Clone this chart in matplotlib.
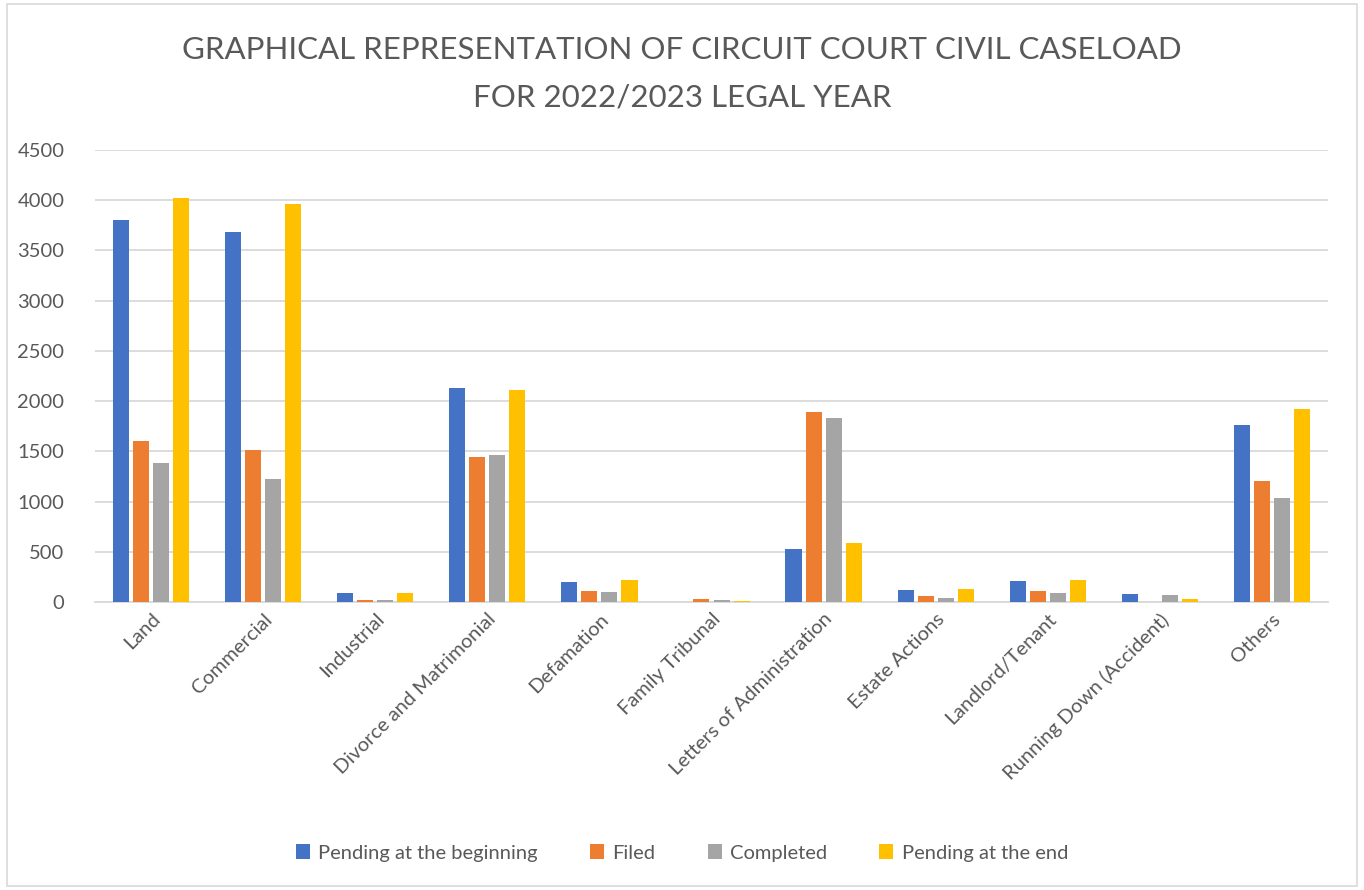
import matplotlib.pyplot as plt
import numpy as np
from matplotlib.patches import Rectangle

categories = ["Land", "Commercial", "Industrial", "Divorce and Matrimonial", "Defamation",
              "Family Tribunal", "Letters of Administration", "Estate Actions",
              "Landlord/Tenant", "Running Down (Accident)", "Others"]
series_names = ["Pending at the beginning", "Filed", "Completed", "Pending at the end"]
pending_begin = [3800, 3680, 94, 2128, 196, 0, 525, 116, 206, 84, 1760]
filed = [1600, 1511, 17, 1441, 113, 27, 1889, 64, 110, 2, 1205]
completed = [1380, 1222, 15, 1461, 97, 15, 1827, 44, 90, 67, 1040]
pending_end = [4018, 3964, 92, 2108, 216, 12, 592, 133, 223, 27, 1926]
colors = ["#4472C4", "#ED7D31", "#A5A5A5", "#FFC000"]

plt.rcParams['font.family'] = ['Lato', 'DejaVu Sans']

fig = plt.figure(figsize=(13.64, 8.90), dpi=100)
ax = fig.add_axes([95/1364, 1-602/890, (1328-95)/1364, (602-150)/890])

x = np.arange(len(categories))
pitch = 0.179
width = 0.143
for k, vals in enumerate([pending_begin, filed, completed, pending_end]):
    ax.bar(x + (k - 1.5) * pitch, vals, width, color=colors[k], label=series_names[k], zorder=3)

ax.set_xlim(-0.5, len(categories) - 0.5)
ax.set_ylim(0, 4500)
ax.set_yticks(np.arange(0, 4501, 500))
ax.grid(axis='y', color='#D9D9D9', linewidth=1.3, zorder=0)
for s in ['top', 'right', 'left']:
    ax.spines[s].set_visible(False)
ax.spines['bottom'].set_color('#D9D9D9')
ax.spines['bottom'].set_linewidth(1.3)
ax.tick_params(length=0, colors='#595959', labelsize=14.5)
ax.tick_params(axis='y', pad=22)
ax.tick_params(axis='x', pad=6)
ax.set_xticks(x)
ax.set_xticklabels(categories, rotation=45, ha='right', rotation_mode='anchor')

fig.text(0.5, 1 - 50/890, "GRAPHICAL REPRESENTATION OF CIRCUIT COURT CIVIL CASELOAD",
         ha='center', va='center', fontsize=22.5, color='#595959')
fig.text(0.5, 1 - 97/890, "FOR 2022/2023 LEGAL YEAR",
         ha='center', va='center', fontsize=22.5, color='#595959')

fig.legend(loc='center', bbox_to_anchor=(0.5, 1 - 853/890), ncol=4, frameon=False,
           fontsize=14.5, labelcolor='#595959', handlelength=0.7, handleheight=0.7,
           handletextpad=0.4, columnspacing=2.6)

fig.patches.append(Rectangle((7/1364, 4/890), 1350/1364, 882/890, transform=fig.transFigure,
                             fill=False, edgecolor='#D9D9D9', linewidth=1.2))

fig.savefig("out.png", dpi=100)
